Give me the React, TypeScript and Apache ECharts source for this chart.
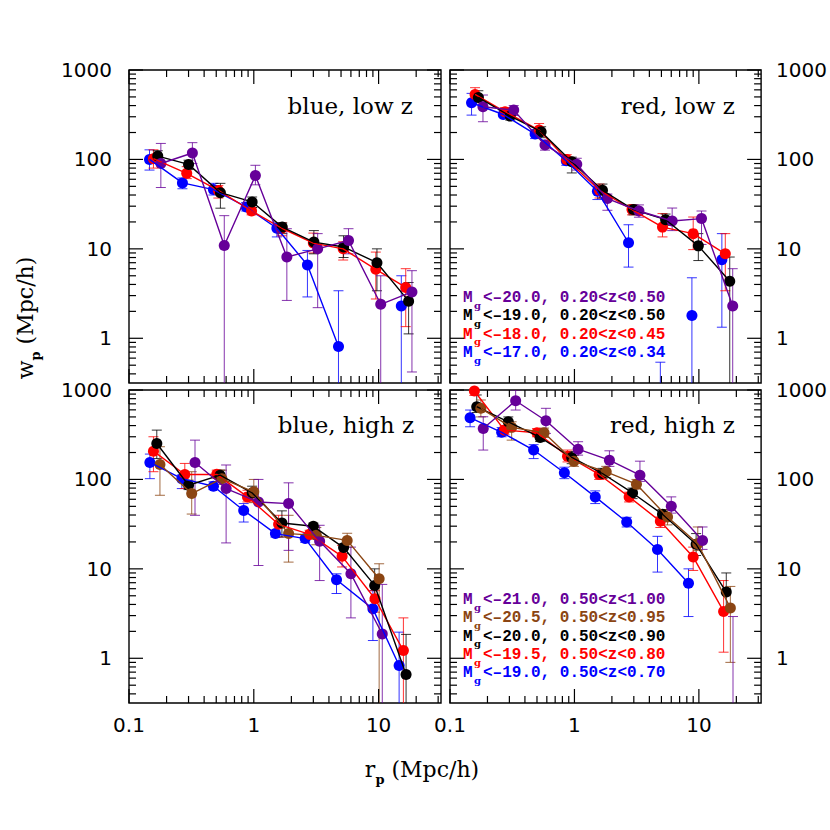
import React, { useEffect, useRef } from 'react';
import * as echarts from 'echarts';

// ---------- axis ranges and ticks ----------
const X_MIN = 0.1;
const X_MAX = 31.62;
const Y_MIN = 0.3162;
const Y_MAX = 1000;
const X_TICKS = [0.1, 0.2, 0.3, 0.4, 0.5, 0.6, 0.7, 0.8, 0.9, 1, 2, 3, 4, 5, 6, 7, 8, 9, 10, 20, 30];
const Y_TICKS = [0.4, 0.5, 0.6, 0.7, 0.8, 0.9, 1, 2, 3, 4, 5, 6, 7, 8, 9, 10, 20, 30, 40, 50, 60, 70, 80, 90, 100, 200, 300, 400, 500, 600, 700, 800, 900, 1000];
const X_LABELS: Record<string, string> = { '-1': '0.1', '0': '1', '1': '10' };
const Y_LABELS: Record<string, string> = { '0': '1', '1': '10', '2': '100', '3': '1000' };

const PANEL_TITLES = ['blue, low z', 'red, low z', 'blue, high z', 'red, high z'];

// ---------- data: r_p, w_p, lower and upper error ends (0.01 = below axis) ----------
// top-left: blue, low z
const TL_BLUE = { c: 'blue', lineEnd: 6,
  x: [0.146, 0.268, 0.475, 0.87, 1.53, 2.69, 4.77, 15.2],
  y: [100, 54.6, 46, 29.4, 17, 6.6, 0.81, 2.3],
  lo: [76, 47, 40, 26.5, 13.6, 2.9, 0.01, 0.01],
  hi: [128, 62, 54, 33, 19.5, 9.6, 3.4, 5.0] };
const TL_RED = { c: 'red',
  x: [0.157, 0.29, 0.52, 0.96, 1.68, 3.0, 5.2, 9.5, 16.5],
  y: [102, 70, 45, 26.5, 17, 11.6, 10, 5.9, 3.7],
  lo: [80, 61, 37, 24, 14, 9, 7.5, 2.75, 1.35],
  hi: [128, 83, 51, 29, 19.5, 15, 12, 9.2, 6.0] };
const TL_BLACK = { c: 'black',
  x: [0.17, 0.30, 0.54, 0.97, 1.69, 3.03, 5.24, 9.7, 17.4],
  y: [109, 88, 42.5, 33.5, 17.5, 11.9, 10.5, 7.0, 2.6],
  lo: [95, 77, 28.5, 29, 14.8, 8.8, 8, 3.4, 1.12],
  hi: [125, 98, 54, 38, 19.5, 16, 14, 10, 4.2] };
const TL_PURPLE = { c: 'purple',
  x: [0.18, 0.322, 0.58, 1.03, 1.84, 3.25, 5.74, 10.4, 18.5],
  y: [90, 118, 10.9, 66, 8.1, 10, 12.4, 2.4, 3.3],
  lo: [48.5, 90, 0.01, 52, 2.65, 2.2, 8.8, 0.01, 0.42],
  hi: [151, 154, 23.5, 86, 16.8, 14.8, 16.8, 5, 5.7] };

// top-right: red, low z
const TR_BLUE = { c: 'blue', lineEnd: 5,
  x: [0.149, 0.268, 0.483, 0.86, 1.53, 2.72, 4.9, 8.79, 15.3],
  y: [430, 318, 192, 96.4, 44, 11.7, null, 1.8, 7.55],
  lo: [313, 300, 171, 86, 35.6, 6.25, 0.01, 0.01, 1.33],
  hi: [548, 356, 213, 106, 50, 18.6, 0.54, 4.75, 14.8] };
const TR_RED = { c: 'red',
  x: [0.159, 0.277, 0.52, 0.867, 1.59, 2.9, 5.1, 9.0, 16.3],
  y: [533, 341, 213, 100, 45.2, 27.5, 17.5, 14.8, 8.8],
  lo: [481, 310, 187, 90, 37, 24, 13.6, 9.8, 3.4],
  hi: [634, 380, 252, 113, 53, 31, 24.8, 22.7, 14.8] };
const TR_BLACK = { c: 'black',
  x: [0.169, 0.305, 0.54, 0.952, 1.68, 2.98, 5.4, 9.9, 17.7],
  y: [494, 305, 204, 94, 45.2, 27.5, 21.2, 10.8, 4.35],
  lo: [430, 275, 175, 70.6, 37, 24, 18.3, 7.4, 0.01],
  hi: [586, 341, 232, 106, 53, 31, 24.5, 14.8, 8.1] };
const TR_PURPLE = { c: 'purple',
  x: [0.184, 0.325, 0.58, 1.044, 1.84, 3.3, 6.1, 10.5, 18.7],
  y: [388, 356, 145, 88.5, 36.5, 26.5, 20.5, 21.8, 2.29],
  lo: [264, 310, 127, 76, 27, 22.6, 16, 11.2, 0.01],
  hi: [525, 400, 164, 103, 41, 31, 28.6, 26.5, 6.0] };

// bottom-left: blue, high z
const BL_BLUE = { c: 'blue',
  x: [0.147, 0.265, 0.475, 0.83, 1.49, 2.58, 4.6, 9.0, 14.6],
  y: [155, 102, 84, 45, 24.8, 21.8, 7.55, 3.57, 0.83],
  lo: [102, 79, 77, 33.4, 22.7, 19.8, 5.3, 1.58, 0.01],
  hi: [192, 112, 94, 53.7, 27, 24, 8.8, 5.7, 1.96] };
const BL_RED = { c: 'red',
  x: [0.157, 0.28, 0.505, 0.89, 1.58, 2.8, 5.1, 9.35, 15.8],
  y: [207, 113.6, 114, 63.8, 31.5, 24.3, 13.8, 4.63, 1.22],
  lo: [122, 79, 104, 56, 22.7, 21.6, 10.5, 3.28, 0.01],
  hi: [300, 151, 127, 75.7, 39.7, 27, 18.3, 5.7, 2.83] };
const BL_BLACK = { c: 'black',
  x: [0.167, 0.30, 0.537, 0.97, 1.68, 3.0, 5.24, 9.3, 16.6],
  y: [252, 86, 111.5, 70.6, 32.6, 29.9, 17.3, 6.53, 0.66],
  lo: [171, 77, 100, 58.5, 22.7, 27, 14.8, 4.4, 0.01],
  hi: [356, 98, 127, 84, 44.5, 32.5, 19, 10, 1.85] };
const BL_BROWN = { c: 'brown',
  x: [0.177, 0.318, 0.555, 1.0, 1.9, 3.17, 5.6, 10.1],
  y: [147, 69.5, 102, 72.6, 24.8, 23.7, 20.8, 7.74],
  lo: [66.5, 41, 88, 55, 11.9, 18.6, 17.5, 0.01],
  hi: [232, 122, 127, 100, 39.7, 29, 25, 11.4] };
const BL_PURPLE = { c: 'purple',
  x: [0.338, 0.6, 1.09, 1.9, 3.37, 6.0, 10.7],
  y: [154.6, 79, 56, 53.7, 20.3, 8.8, 1.87],
  lo: [39.7, 19.5, 10.9, 16.1, 7.4, 2.83, 0.01],
  hi: [275, 145, 100, 91.6, 30.7, 17.5, 6.7] };

// bottom-right: red, high z
const BR_BLUE = { c: 'blue',
  x: [0.145, 0.26, 0.47, 0.83, 1.47, 2.63, 4.65, 8.25],
  y: [490, 336, 213, 118.6, 63.8, 33.4, 16.5, 6.9],
  lo: [388, 300, 171, 102, 53.7, 29.4, 9.2, 2.93],
  hi: [597, 380, 245, 137, 74.5, 37.7, 23.1, 10] };
const BR_RED = { c: 'red',
  x: [0.157, 0.274, 0.5, 0.88, 1.58, 2.75, 4.9, 9.0, 15.8],
  y: [975, 356, 333, 182, 113.6, 63.8, 34, 13.6, 3.34],
  lo: [870, 320, 300, 157, 100, 56, 29, 9.6, 1.17],
  hi: [1100, 395, 370, 213, 128, 72, 38, 17.5, 7.4] };
const BR_BLACK = { c: 'black',
  x: [0.164, 0.294, 0.53, 0.95, 1.68, 2.93, 5.1, 9.5, 16.6],
  y: [650, 441, 295, 176, 116.5, 70.6, 40.7, 18.8, 5.5],
  lo: [560, 390, 265, 150, 102, 61, 35, 14.1, 3.64],
  hi: [880, 500, 330, 205, 133, 80, 46, 24.8, 9.0] };
const BR_BROWN = { c: 'brown',
  x: [0.177, 0.313, 0.57, 0.99, 1.8, 3.15, 5.6, 9.8, 17.9],
  y: [624, 382, 333, 160, 121.6, 88.5, 38, 19.1, 3.66],
  lo: [500, 275, 295, 140, 105, 78, 31, 16.1, 0.9],
  hi: [773, 441, 375, 185, 140, 100, 46, 29.4, 6.36] };
const BR_PURPLE = { c: 'purple', lineEnd: 7,
  x: [0.185, 0.337, 0.59, 1.07, 1.91, 3.36, 6.0, 10.7, 18.8],
  y: [371, 759, 453, 218, 164, 111.5, 50.1, 20.8, null],
  lo: [213, 597, 327, 187, 140, 95, 42, 16.5, 0.01],
  hi: [502, 1000, 624, 264, 209, 160, 63.8, 29.4, 2.93] };

const PANELS = [
  [TL_BLUE, TL_RED, TL_BLACK, TL_PURPLE],
  [TR_BLUE, TR_RED, TR_BLACK, TR_PURPLE],
  [BL_BLUE, BL_RED, BL_BLACK, BL_BROWN, BL_PURPLE],
  [BR_BLUE, BR_RED, BR_BLACK, BR_BROWN, BR_PURPLE],
];

// legend texts (color key, text after "M_g")
const LEGEND_LOW = [
  ['purple', '<\u201320.0, 0.20<z<0.50'],
  ['black', '<\u201319.0, 0.20<z<0.50'],
  ['red', '<\u201318.0, 0.20<z<0.45'],
  ['blue', '<\u201317.0, 0.20<z<0.34'],
];
const LEGEND_HIGH = [
  ['purple', '<\u201321.0, 0.50<z<1.00'],
  ['brown', '<\u201320.5, 0.50<z<0.95'],
  ['black', '<\u201320.0, 0.50<z<0.90'],
  ['red', '<\u201319.5, 0.50<z<0.80'],
  ['blue', '<\u201319.0, 0.50<z<0.70'],
];

const COLORS: Record<string, string> = {
  blue: '#0000ff', red: '#ff0000', black: '#000000', brown: '#8b4513', purple: '#660099',
};

const SERIF = '"DejaVu Serif", "Liberation Serif", serif';
const SANS = '"DejaVu Sans", sans-serif';
const MONO = '"Liberation Mono", "DejaVu Sans Mono", monospace';

const isDecade = (v: number) => {
  const l = Math.log10(v);
  return Math.abs(l - Math.round(l)) < 1e-6;
};

function buildOption() {
  const gridPos = [
    { left: 129, top: 70 },
    { left: 450, top: 70 },
    { left: 129, top: 390 },
    { left: 450, top: 390 },
  ];
  const grid = gridPos.map((g) => ({
    ...g, width: 312, height: 313, show: true,
    borderColor: '#000', borderWidth: 1.4, backgroundColor: 'transparent',
  }));

  const xAxis = gridPos.map((_, i) => ({
    type: 'log', logBase: 10, gridIndex: i, min: X_MIN, max: X_MAX,
    axisLine: { show: false }, axisTick: { show: false }, splitLine: { show: false },
    axisLabel: {
      show: i >= 2, margin: 12, color: '#000', fontFamily: SANS, fontSize: 20,
      formatter: (v: number) => (isDecade(v) ? X_LABELS[String(Math.round(Math.log10(v)))] || '' : ''),
    },
  }));
  const yAxis = gridPos.map((_, i) => ({
    type: 'log', logBase: 10, gridIndex: i, min: Y_MIN, max: Y_MAX,
    position: i % 2 === 0 ? 'left' : 'right',
    axisLine: { show: false }, axisTick: { show: false }, splitLine: { show: false },
    axisLabel: {
      show: true, margin: i % 2 === 0 ? 17 : 15, color: '#000', fontFamily: SANS, fontSize: 20,
      formatter: (v: number) => (isDecade(v) ? Y_LABELS[String(Math.round(Math.log10(v)))] || '' : ''),
    },
  }));

  const series: any[] = [];
  gridPos.forEach((_, i) => {
    // tick marks on all four sides
    series.push({
      type: 'custom', xAxisIndex: i, yAxisIndex: i, silent: true, z: 5,
      data: [...X_TICKS.map((v) => [v, 1, 0]), ...Y_TICKS.map((v) => [1, v, 1])],
      renderItem: (params: any, api: any) => {
        const cs = params.coordSys;
        const kind = api.value(2);
        const v = kind === 0 ? api.value(0) : api.value(1);
        const len = isDecade(v) ? 14 : 7;
        const style = { stroke: '#000', lineWidth: 1.2 };
        if (kind === 0) {
          const x = api.coord([v, 1])[0];
          return {
            type: 'group', children: [
              { type: 'line', shape: { x1: x, y1: cs.y + cs.height, x2: x, y2: cs.y + cs.height - len }, style },
              { type: 'line', shape: { x1: x, y1: cs.y, x2: x, y2: cs.y + len }, style },
            ],
          };
        }
        const y = api.coord([1, v])[1];
        return {
          type: 'group', children: [
            { type: 'line', shape: { x1: cs.x, y1: y, x2: cs.x + len, y2: y }, style },
            { type: 'line', shape: { x1: cs.x + cs.width, y1: y, x2: cs.x + cs.width - len, y2: y }, style },
          ],
        };
      },
    });

    PANELS[i].forEach((s: any) => {
      const color = COLORS[s.c];
      // error bars
      series.push({
        type: 'custom', xAxisIndex: i, yAxisIndex: i, silent: true, clip: true,
        encode: { x: 0, y: [1, 2] },
        data: s.x.map((x: number, k: number) => [x, s.lo[k], s.hi[k]]),
        renderItem: (params: any, api: any) => {
          const x = api.value(0);
          const pHi = api.coord([x, api.value(2)]);
          const pLo = api.coord([x, api.value(1)]);
          const style = { stroke: color, lineWidth: 1, opacity: 0.8 };
          return {
            type: 'group', children: [
              { type: 'line', shape: { x1: pHi[0], y1: pHi[1], x2: pLo[0], y2: pLo[1] }, style },
              { type: 'line', shape: { x1: pHi[0] - 5, y1: pHi[1], x2: pHi[0] + 5, y2: pHi[1] }, style },
              { type: 'line', shape: { x1: pLo[0] - 5, y1: pLo[1], x2: pLo[0] + 5, y2: pLo[1] }, style },
            ],
          };
        },
      });
      // connecting line
      const end = s.lineEnd !== undefined ? s.lineEnd : s.x.length - 1;
      const lineData: any[] = [];
      for (let k = 0; k <= end; k++) lineData.push(s.y[k] == null ? [s.x[k], '-'] : [s.x[k], s.y[k]]);
      series.push({
        type: 'line', xAxisIndex: i, yAxisIndex: i, silent: true, clip: true,
        symbol: 'none', showSymbol: false, connectNulls: false,
        lineStyle: { color, width: 1.4 }, data: lineData,
      });
      // points
      series.push({
        type: 'scatter', xAxisIndex: i, yAxisIndex: i, silent: true, clip: true,
        symbol: 'circle', symbolSize: 11, itemStyle: { color, opacity: 1 },
        data: s.x.map((x: number, k: number) => [x, s.y[k]]).filter((d: any) => d[1] != null),
      });
    });
  });

  // texts
  const graphic: any[] = [];
  const titlePos = [[413, 106], [735, 106], [414, 425], [735, 425]];
  PANEL_TITLES.forEach((t, i) => {
    graphic.push({
      type: 'text', x: titlePos[i][0], y: titlePos[i][1], silent: true,
      style: { text: t, fill: '#000', fontFamily: SERIF, fontSize: 23, align: 'right', verticalAlign: 'middle' },
    });
  });
  const addLegend = (rows: string[][], y0: number, dy: number) => {
    rows.forEach((r, k) => {
      const color = COLORS[r[0]];
      const y = y0 + k * dy;
      graphic.push({
        type: 'text', x: 463, y, silent: true,
        style: { text: 'M', fill: color, fontFamily: MONO, fontWeight: 'bold', fontSize: 16, align: 'left', verticalAlign: 'middle' },
      });
      graphic.push({
        type: 'text', x: 474, y: y + 7, silent: true,
        style: { text: 'g', fill: color, fontFamily: SERIF, fontWeight: 'bold', fontSize: 10, align: 'left', verticalAlign: 'middle' },
      });
      graphic.push({
        type: 'text', x: 483, y, silent: true,
        style: { text: r[1], fill: color, fontFamily: MONO, fontWeight: 'bold', fontSize: 16, align: 'left', verticalAlign: 'middle' },
      });
    });
  };
  addLegend(LEGEND_LOW, 298, 18.4);
  addLegend(LEGEND_HIGH, 600, 18.35);

  const titleRich = {
    a: { fill: '#000', fontFamily: SERIF, fontSize: 22, lineHeight: 34, verticalAlign: 'middle' },
    b: { fill: '#000', fontFamily: SERIF, fontSize: 13, fontWeight: 'bold', lineHeight: 14, verticalAlign: 'bottom' },
  };
  graphic.push({
    type: 'text', x: 422, y: 769, silent: true,
    style: { text: '{a|r}{b|p}{a| (Mpc/h)}', fill: '#000', align: 'center', verticalAlign: 'middle', rich: titleRich },
  });
  graphic.push({
    type: 'text', x: 25, y: 318, rotation: Math.PI / 2, silent: true,
    style: { text: '{a|w}{b|p}{a| (Mpc/h)}', fill: '#000', align: 'center', verticalAlign: 'middle', rich: titleRich },
  });

  return { animation: false, backgroundColor: '#fff', grid, xAxis, yAxis, series, graphic };
}

export default function App() {
  const ref = useRef<HTMLDivElement>(null);
  useEffect(() => {
    if (!ref.current) return;
    const chart = echarts.init(ref.current, undefined, { renderer: 'svg' });
    chart.setOption(buildOption() as any);
    return () => chart.dispose();
  }, []);
  return (
    <div
      ref={ref}
      style={{ position: 'absolute', left: 0, top: 0, width: 830, height: 830 }}
    />
  );
}
